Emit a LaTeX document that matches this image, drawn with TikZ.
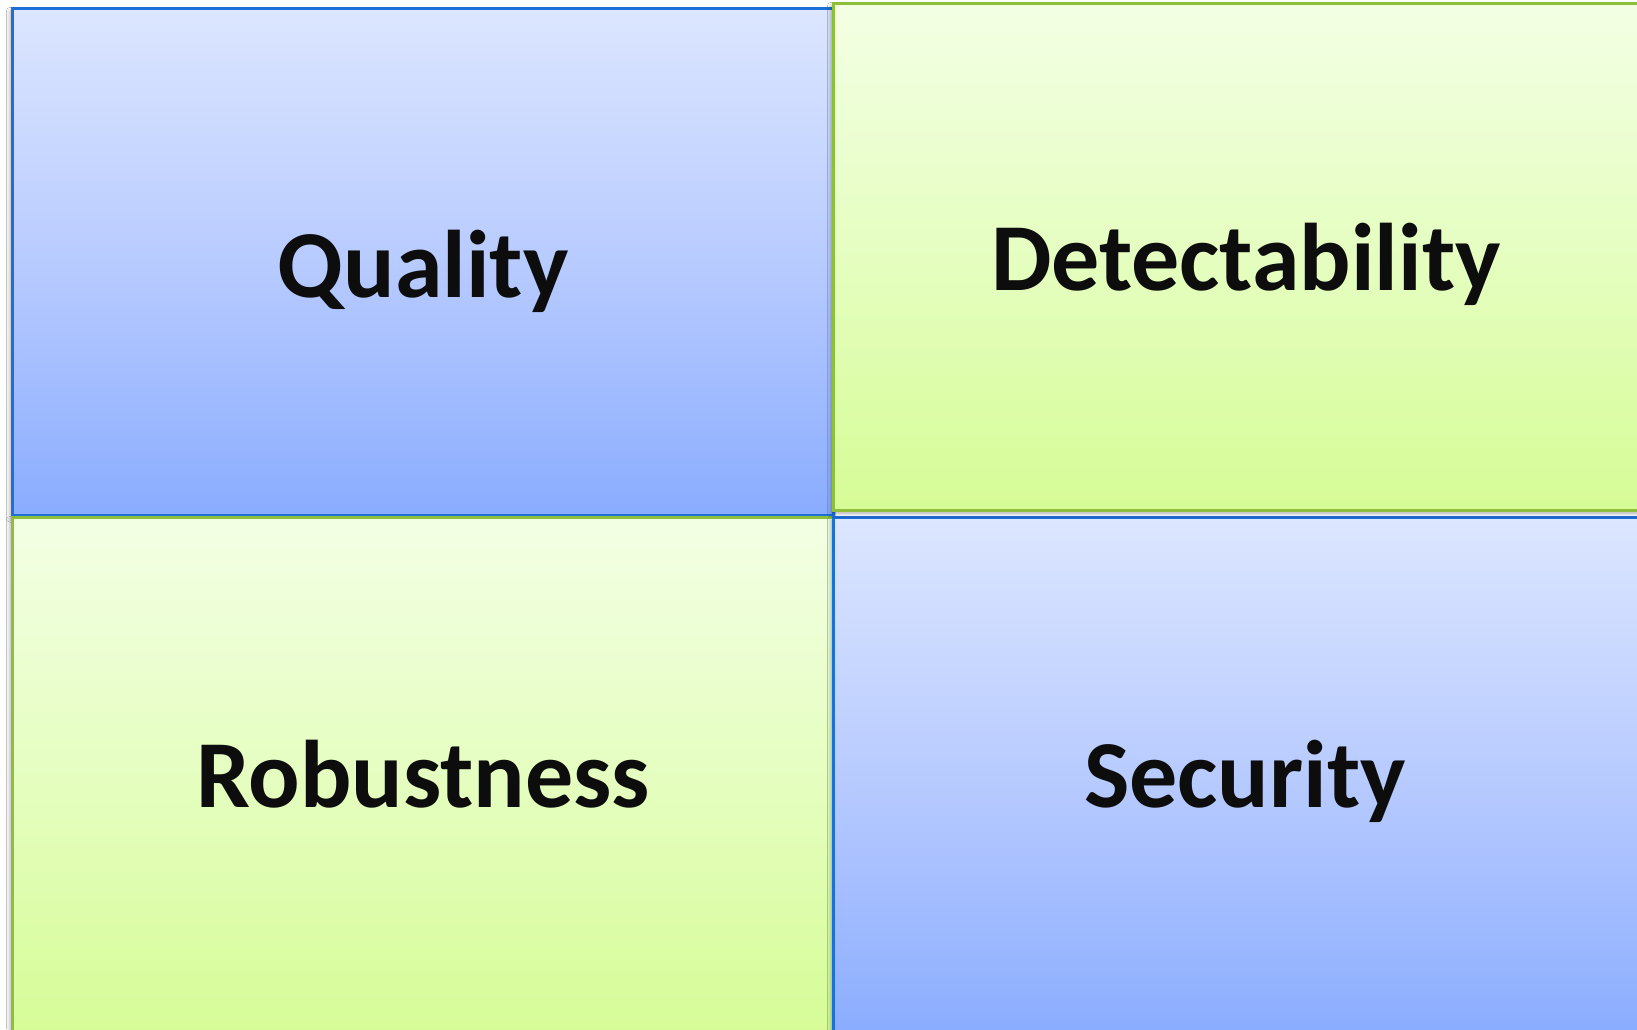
\documentclass[tikz,border=0pt]{standalone}
\usepackage{fontspec}
\setmainfont{Carlito}
\usetikzlibrary{shadows.blur}

\definecolor{blueTop}{HTML}{DCE6FF}
\definecolor{blueMid}{HTML}{B8CBFF}
\definecolor{blueBot}{HTML}{8AACFF}
\definecolor{blueEdge}{HTML}{1F6FD8}
\definecolor{greenTop}{HTML}{F3FFE4}
\definecolor{greenMid}{HTML}{E5FEC0}
\definecolor{greenBot}{HTML}{D6FC96}
\definecolor{greenEdge}{HTML}{8DBF3A}

\tikzset{
  cell/.style={draw, line width=2.5pt, minimum width=821pt, minimum height=507pt,
    inner sep=0pt, anchor=north west,
    blur shadow={shadow xshift=-2pt, shadow yshift=-3pt,
      shadow blur radius=4pt, shadow opacity=35}},
  bluecell/.style={cell, draw=blueEdge,
    top color=blueTop, bottom color=blueBot, middle color=blueMid},
  greencell/.style={cell, draw=greenEdge,
    top color=greenTop, bottom color=greenBot, middle color=greenMid},
  label/.style={anchor=base, inner sep=0pt, text=black!95,
    font=\fontsize{96}{96}\selectfont\bfseries}
}

\begin{document}
\begin{tikzpicture}[x=1pt, y=-1pt]
  \useasboundingbox (0,0) rectangle (1637,1029);
  \fill[white] (0,0) rectangle (1637,1029);

  % the four quadrants, drawn so that each later cell overlaps its neighbour's edge
  \node[bluecell] (quality) at (11,7) {};
  \node[greencell, minimum height=520pt] (robustness) at (11,516) {};
  \node[bluecell, minimum width=828pt, minimum height=520pt] (security) at (832,516) {};
  \node[greencell, minimum width=828pt] (detectability) at (832,2) {};

  % captions, set on a common baseline per row
  \node[label] (qualityText) at (423,297) {Quality};
  \node[label] (detectText) at (1246,290) {Detectability};
  \node[label] (robustText) at (423,807) {Robustness};
  \node[label] (securityText) at (1245,807) {Security};
\end{tikzpicture}
\end{document}
